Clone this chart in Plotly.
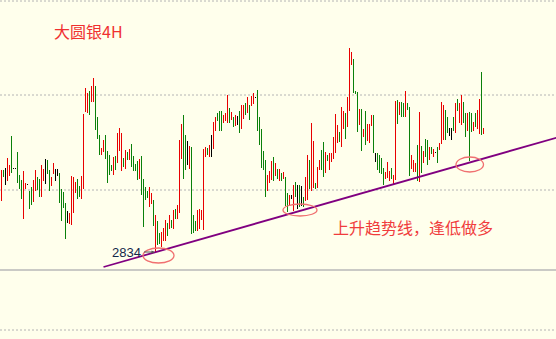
import plotly.graph_objects as go

# ---- data (4H silver bars) ----
highs = [2917,2917,2919,2929,2922,2951,2919,2919,2935,2912,
         2907,2916,2904,2903,2896,2900,2907,2917,2910,2908,
         2922,2918,2928,2927,2917,2910,2924,2918,2918,2914,
         2898,2895,2884,2876,2874,2911,2910,2905,2908,2901,
         2911,2973,2999,2994,2996,3001,3009,3001,2970,2952,
         2939,2947,2952,2936,2932,2922,2930,2931,2954,2959,
         2954,2929,2937,2935,2938,2943,2931,2923,2926,2928,
         2931,2908,2900,2896,2900,2894,2887,2872,2866,2854,
         2855,2859,2867,2864,2872,2867,2877,2878,2882,2947,
         2963,2972,2952,2946,2941,2940,2872,2866,2877,2878,
         2877,2938,2940,2939,2942,2952,2965,2970,2974,2976,
         2976,2972,2974,2992,2979,2975,2970,2972,2971,2976,
         2982,2982,2984,2990,2982,2991,2994,2990,2997,2970,
         2958,2936,2927,2912,2916,2926,2930,2924,2918,2918,
         2914,2915,2910,2894,2892,2892,2902,2905,2902,2902,
         2901,2890,2910,2932,2927,2964,2946,2904,2920,2927,
         2937,2945,2935,2932,2934,2934,2950,2973,2962,2955,
         2980,2976,2974,2990,3039,3035,3028,2996,2995,2978,
         2978,2958,2976,2963,2963,2972,2972,2934,2934,2932,
         2929,2919,2915,2925,2916,2919,2912,2986,2987,2985,
         2985,2984,2996,2984,2980,2932,2927,2924,2942,2975,
         2941,2936,2948,2947,2940,2940,2938,2935,2940,2944,
         2985,2982,2977,2970,2959,2959,2970,2984,2988,2984,
         2992,2985,2974,2974,2975,2974,2965,2974,2977,2988,
         3015,2959]
lows = [2886,2910,2902,2906,2911,2914,2918,2918,2904,2898,
        2888,2868,2898,2902,2878,2882,2885,2896,2897,2890,
        2890,2906,2903,2913,2896,2901,2913,2906,2911,2884,
        2866,2879,2848,2864,2863,2862,2874,2894,2888,2890,
        2888,2898,2975,2974,2972,2985,2985,2957,2948,2932,
        2932,2935,2928,2904,2912,2916,2912,2917,2924,2936,
        2916,2920,2918,2927,2927,2920,2916,2916,2907,2908,
        2892,2860,2887,2889,2880,2883,2861,2834,2842,2843,
        2840,2846,2846,2851,2858,2859,2858,2868,2868,2874,
        2928,2908,2917,2922,2918,2853,2854,2856,2856,2858,
        2867,2857,2930,2932,2930,2930,2938,2956,2966,2956,
        2956,2964,2966,2964,2964,2967,2960,2961,2962,2954,
        2958,2968,2972,2974,2967,2981,2983,2989,2956,2942,
        2919,2917,2890,2896,2904,2907,2906,2911,2908,2906,
        2906,2908,2881,2875,2881,2888,2876,2890,2878,2880,
        2881,2880,2886,2887,2898,2896,2899,2898,2899,2917,
        2917,2910,2914,2926,2917,2925,2928,2934,2944,2945,
        2940,2958,2948,2960,2976,3022,2994,2993,2955,2962,
        2936,2950,2942,2946,2944,2961,2934,2925,2917,2914,
        2913,2902,2908,2909,2906,2908,2903,2907,2963,2972,
        2970,2970,2970,2977,2911,2918,2915,2915,2906,2905,
        2914,2924,2930,2922,2927,2933,2930,2934,2924,2937,
        2943,2947,2947,2954,2951,2947,2956,2954,2976,2964,
        2962,2964,2950,2956,2926,2955,2956,2960,2958,2953,
        2952,2953]
# r = up bar, g = down bar, b = unchanged
directions = ("rgbrrgbbgg" "grrbggrrgg" "rrbggrrbbg" "gggbrrrrgg"
              "rrrrgrrggg" "rrggggrgrr" "rgrgrggggr" "ggggrrgrgg"
              "rrrgrgrgrr" "rggbrgggrr" "rrrgrbrrgg" "grrrgrgrbg"
              "rrgrgrrbgg" "gggrrrgrgr" "grggrbrgbg" "bgrrgrrgrr"
              "ggrgrrrrrg" "rrgrrrgggr" "grgrrrgbgg" "ggrrrgrrgr"
              "ggrggrrrgr" "grggrgrbgr" "rrggbbgrgr" "rggrggrgrr" "gr")
assert len(highs) == len(lows) == len(directions)

low_label = "2834"
title_text = "大圆银4H"
note_text = "上升趋势线，逢低做多"

# trend line anchors (bar index, price)
trend_x = [51.0, 277.5]
trend_y = [2820.0, 2949.3]

# horizontal reference levels
dotted_levels = [3086, 2992, 2897, 2757]
panel_divider = 2817

# circled touch points (bar index range, price range)
circles = [(70.75, 86.25, 2824, 2839),
           (140.75, 157.75, 2871, 2883),
           (227.25, 241.0, 2915, 2930)]

colors = {"r": "#e80000", "g": "#0a800a", "b": "#000000"}

fig = go.Figure()
for code, col in colors.items():
    xs, ys = [], []
    for i, (h, l, d) in enumerate(zip(highs, lows, directions)):
        if d != code:
            continue
        hi = h if h > l else l + 0.6
        xs += [i, i, None]
        ys += [l, hi, None]
    fig.add_trace(go.Scatter(x=xs, y=ys, mode="lines",
                             line=dict(color=col, width=1),
                             hoverinfo="skip", showlegend=False))

fig.add_trace(go.Scatter(x=trend_x, y=trend_y, mode="lines",
                         line=dict(color="#800080", width=1.8),
                         hoverinfo="skip", showlegend=False))

shapes = []
for lv in dotted_levels:
    shapes.append(dict(type="line", xref="paper", x0=0, x1=1, yref="y", y0=lv, y1=lv,
                       line=dict(color="#b4b4b4", width=1, dash="2px,2px"), layer="below"))
shapes.append(dict(type="line", xref="paper", x0=0, x1=1, yref="y",
                   y0=panel_divider, y1=panel_divider,
                   line=dict(color="#b8b8b8", width=1.5), layer="below"))
for x0, x1, y0, y1 in circles:
    shapes.append(dict(type="circle", xref="x", yref="y", x0=x0, x1=x1, y0=y0, y1=y1,
                       line=dict(color="#f07070", width=1.3)))

low_idx = lows.index(min(lows))
annotations = [
    dict(x=52 / 556, y=1 - 31 / 339, xref="paper", yref="paper", text=title_text,
         showarrow=False, xanchor="left", yanchor="middle",
         font=dict(family="Noto Sans CJK SC", size=16, color="#f03030")),
    dict(x=331 / 556, y=1 - 227 / 339, xref="paper", yref="paper", text=note_text,
         showarrow=False, xanchor="left", yanchor="middle",
         font=dict(family="Noto Sans CJK SC", size=16, color="#f03c3c")),
    dict(x=low_idx - 0.5, y=min(lows) + 1, xref="x", yref="y", text="",
         showarrow=True, arrowhead=2, arrowsize=0.6, arrowwidth=1,
         arrowcolor="#555555", ax=-12, ay=0),
    dict(x=low_idx - 6.5, y=min(lows) + 1, xref="x", yref="y", text=low_label,
         showarrow=False, xanchor="right", yanchor="middle",
         font=dict(family="Liberation Sans", size=13, color="#14284a")),
]

fig.update_layout(
    width=556, height=339, autosize=False,
    margin=dict(l=0, r=0, t=0, b=0, pad=0),
    paper_bgcolor="#ffffec", plot_bgcolor="#ffffec",
    xaxis=dict(range=[-0.75, 277.25], visible=False, fixedrange=True),
    yaxis=dict(range=[2748, 3087], visible=False, fixedrange=True),
    shapes=shapes, annotations=annotations, showlegend=False,
)

fig.write_html("out.html")
